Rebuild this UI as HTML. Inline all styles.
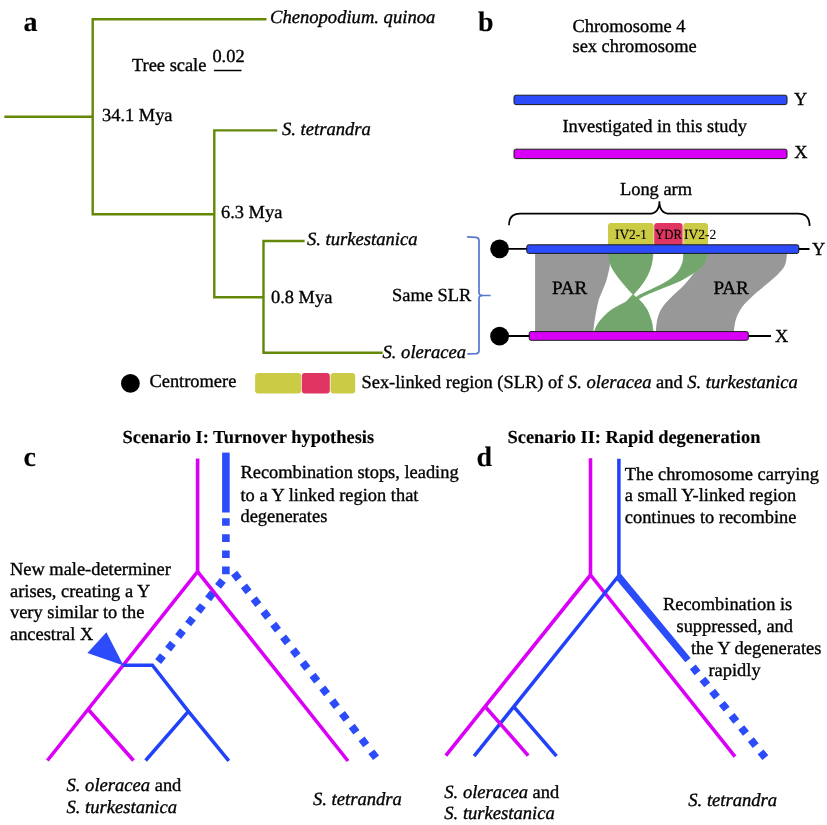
<!DOCTYPE html>
<html><head><meta charset="utf-8">
<style>
html,body{margin:0;padding:0;background:#fff;}
svg{display:block;will-change:transform;}
text{text-rendering:geometricPrecision;font-family:"Liberation Serif",serif;font-size:18.4px;fill:#000;stroke:#000;stroke-width:0.35px;}
.i{font-style:italic;font-size:18.6px;}
.b{font-weight:bold;stroke-width:0.15px;}
.lab{font-weight:bold;font-size:28px;stroke-width:0.1px;}
.sm{font-size:14px;stroke-width:0.12px;}
</style></head><body>
<svg width="827" height="825" viewBox="0 0 827 825">
<!-- ===== Panel a ===== -->
<text class="lab" x="23.5" y="30.5">a</text>
<g stroke="#638808" stroke-width="2.4" fill="none" stroke-linecap="square">
  <path d="M5.5 116.7H92.7M92.7 19.2V214.3M92.7 19.2H265.3M92.7 214.3H214.3M214.3 130.4V297.3M214.3 130.4H276M214.3 297.3H263.5M263.5 241V352.8M263.5 241H303.4M263.5 352.8H381.4"/>
</g>
<text class="i" x="270" y="22.9">Chenopodium. quinoa</text>
<text x="132" y="70.5">Tree scale</text>
<text x="212.4" y="61.6">0.02</text>
<path d="M214 70.5H241.5" stroke="#000" stroke-width="1.5"/>
<text x="102" y="121.1">34.1 Mya</text>
<text class="i" x="282" y="134.7">S. tetrandra</text>
<text x="221" y="217.9">6.3 Mya</text>
<text class="i" x="307" y="244.7">S. turkestanica</text>
<text x="271" y="302.7">0.8 Mya</text>
<text class="i" x="382.5" y="357.8">S. oleracea</text>
<text x="392" y="300.5">Same SLR</text>
<path d="M467.1 236.9L476 237.4Q479 237.9 479 240.6V292.7Q479 295.5 483 295.5H490.6M483 295.5Q479 295.5 479 298.3V350.8Q479 353.5 476 353.7L467.3 353.9" stroke="#5877CC" stroke-width="1.7" fill="none"/>

<!-- ===== Panel b ===== -->
<text class="lab" x="478" y="30.9">b</text>
<text x="572.5" y="31.5">Chromosome 4</text>
<text x="572.5" y="52.2">sex chromosome</text>
<rect x="514" y="95.2" width="273" height="9.4" rx="1.8" fill="#2B4CF8" stroke="#1a1a1a" stroke-width="1"/>
<text x="794" y="105.3">Y</text>
<text x="562.5" y="131.7">Investigated in this study</text>
<rect x="514" y="149.2" width="273" height="9.4" rx="1.8" fill="#DA00F8" stroke="#1a1a1a" stroke-width="1"/>
<text x="794.2" y="158">X</text>
<text x="620" y="195">Long arm</text>
<path d="M509 225.3Q509 213.7 520.3 213.7H648.9Q659.4 213.7 659.4 201.2Q659.4 213.7 669.9 213.7H798Q809.6 213.7 809.6 225.9" stroke="#000" stroke-width="1.7" fill="none"/>

<!-- PAR shapes -->
<path d="M535.1 252.5L609.5 252.5C609.6 254.5 610.1 261.2 609.9 264.7C609.7 268.1 608.8 270.4 608.2 273.2C607.6 276.0 607.0 278.8 606.1 281.6C605.2 284.4 603.9 287.0 602.7 290.1C601.5 293.2 599.7 296.7 598.7 300.0C597.7 303.3 597.2 306.7 596.5 310.0C595.8 313.3 595.2 316.5 594.7 320.0C594.2 323.5 593.6 328.9 593.4 331.0C593.1 333.1 593.2 332.2 593.2 332.5L535.1 332.5Z" fill="#989898"/>
<path d="M707.5 252.5L787.1 252.5C786.9 254.1 786.5 259.5 785.9 262.1C785.3 264.7 784.7 266.1 783.4 268.1C782.1 270.1 780.0 272.2 778.0 274.2C776.0 276.2 773.6 278.2 771.3 280.2C769.0 282.2 766.5 284.3 764.1 286.3C761.7 288.3 759.1 290.3 756.8 292.3C754.5 294.3 752.3 296.4 750.2 298.4C748.1 300.4 745.8 302.4 744.1 304.4C742.4 306.4 741.1 308.5 739.9 310.5C738.7 312.5 737.7 314.5 736.9 316.5C736.1 318.5 735.6 320.2 735.1 322.6C734.6 325.0 734.1 329.4 733.9 331.0C733.7 332.6 733.8 332.2 733.8 332.5L655.8 332.5C655.8 332.2 655.8 332.5 655.9 331.0C656.0 329.5 656.2 325.9 656.6 323.5C657.0 321.1 657.3 318.7 658.1 316.3C658.9 313.9 659.8 311.4 661.3 309.0C662.8 306.6 664.7 304.2 666.8 301.8C668.9 299.4 671.5 296.9 674.0 294.5C676.5 292.1 679.6 289.7 682.0 287.3C684.4 284.9 686.6 282.2 688.5 280.0C690.4 277.8 691.7 275.6 693.5 273.8C695.3 272.0 697.6 271.0 699.5 269.0C701.4 267.0 703.5 264.8 704.8 262.0C706.1 259.2 707.0 254.1 707.5 252.5Z" fill="#989898"/>
<path d="M608.6 252.5L653.1 252.5C652.9 254.3 652.4 260.1 651.6 263.5C650.9 266.9 649.8 269.9 648.6 272.8C647.4 275.7 645.9 278.3 644.2 281.0C642.5 283.7 640.0 286.7 638.2 289.0C636.4 291.3 634.0 293.7 633.2 294.6C632.5 293.9 630.8 292.3 628.9 290.1C627.0 287.9 624.0 284.4 621.7 281.6C619.5 278.8 617.2 276.0 615.4 273.2C613.6 270.4 611.8 268.1 610.7 264.7C609.6 261.2 609.0 254.5 608.6 252.5Z" fill="#73A66D" stroke="#5E9E58" stroke-width="0.7"/>
<path d="M632.9 294.6L626 301.9C623.5 303.3 614.9 307.5 610.8 310.4C606.7 313.3 603.7 316.8 601.4 319.3C599.1 321.8 598.1 323.7 597.0 325.6C595.9 327.6 595.1 329.9 594.7 331.0C594.3 332.1 594.5 332.2 594.5 332.5L653.3 332.5C653.2 332.2 653.2 332.5 653.0 331.0C652.8 329.5 652.4 325.9 651.9 323.5C651.4 321.1 650.6 318.7 649.7 316.3C648.8 313.9 648.0 311.5 646.5 309.0C645.0 306.5 642.9 303.6 640.8 301.4C638.7 299.2 635.1 296.6 634.0 295.6Z" fill="#73A66D" stroke="#5E9E58" stroke-width="0.7"/>
<path d="M683.8 252.5L707.2 252.5C706.8 254.1 706.1 259.4 704.7 262.2C703.4 265.0 701.1 267.4 699.1 269.3C697.1 271.2 696.0 271.5 693.0 273.3C690.0 275.1 685.7 278.0 680.8 280.4C675.9 282.8 669.2 285.2 663.5 287.6C657.8 290.0 650.5 292.8 646.3 294.7C642.1 296.6 639.8 298.1 638.5 298.8L636.3 297.3C636.9 296.9 637.0 296.3 640.2 294.7C643.4 293.1 650.7 290.0 655.4 287.6C660.1 285.2 664.9 282.9 668.6 280.4C672.3 277.8 675.3 275.3 677.7 272.3C680.1 269.3 681.8 265.5 682.8 262.2C683.8 258.9 683.6 254.1 683.8 252.5Z" fill="#73A66D" stroke="#5E9E58" stroke-width="0.7"/>


<!-- SLR boxes -->
<rect x="608" y="223" width="45.7" height="24" rx="3" fill="#CBCB46"/>
<rect x="654.2" y="223" width="28.4" height="24" rx="3" fill="#E03562"/>
<rect x="683.3" y="223" width="24.7" height="24" rx="3" fill="#CBCB46"/>
<text class="sm" x="615" y="238.9" textLength="31.8" lengthAdjust="spacingAndGlyphs">IV2-1</text>
<text class="sm" x="655" y="238.9" textLength="27" lengthAdjust="spacingAndGlyphs">YDR</text>
<text class="sm" x="684" y="238.9" textLength="32.2" lengthAdjust="spacingAndGlyphs">IV2-2</text>

<!-- chromosomes with centromere -->
<circle cx="499.6" cy="248.8" r="9.4" fill="#000"/>
<circle cx="499.6" cy="336.2" r="9.4" fill="#000"/>
<path d="M499 248.9H527M798 249H809.5M499 336H530M748.5 336H771" stroke="#000" stroke-width="1.9"/>
<rect x="526.8" y="244.8" width="272" height="8.6" rx="1.8" fill="#2B4CF8" stroke="#1a1a1a" stroke-width="1"/>
<rect x="529.2" y="331.6" width="219.1" height="8.7" rx="1.8" fill="#DA00F8" stroke="#1a1a1a" stroke-width="1"/>
<text x="812" y="254.8">Y</text>
<text x="775" y="342.3">X</text>
<text x="552" y="294.4" style="font-size:19px">PAR</text>
<text x="713.5" y="294.2" style="font-size:19px">PAR</text>

<!-- legend -->
<circle cx="130.4" cy="383.4" r="9.4" fill="#000"/>
<text x="149.5" y="387.3">Centromere</text>
<rect x="255.1" y="373" width="46.1" height="20.6" rx="3" fill="#CBCB46"/>
<rect x="301.8" y="373" width="28" height="20.6" rx="3" fill="#E03562"/>
<rect x="330.5" y="373" width="24.7" height="20.6" rx="3" fill="#CBCB46"/>
<text x="361.5" y="388">Sex-linked region (SLR) of <tspan class="i">S. oleracea</tspan> and <tspan class="i">S. turkestanica</tspan></text>

<!-- ===== Panel c ===== -->
<text class="b" x="122.5" y="442.9">Scenario I: Turnover hypothesis</text>
<text class="lab" x="23.5" y="465.7">c</text>
<g fill="none" stroke-linecap="butt">
  <path d="M197.6 458.4V571.6L47.4 760.5M197.6 571.6L348 761M88.5 709.8L133.5 760.5" stroke="#DA00F8" stroke-width="3.6"/>
  <path d="M225.9 452.6V512.5" stroke="#2B4CF8" stroke-width="7.6"/>
  <path d="M225.9 518.2L225.9 574.2" stroke="#2B4CF8" stroke-width="7.6" stroke-dasharray="7.6 8.53"/>
  <path d="M234.1 573.1L376.0 757.7" stroke="#2B4CF8" stroke-width="7.6" stroke-dasharray="7.6 8.49"/>
  <path d="M222.8 580.4L158.1 661.7" stroke="#2B4CF8" stroke-width="7.6" stroke-dasharray="7.6 8.44"/>
  <path d="M123 665.2H152.4L188.4 711.3L228.8 760.8M188.4 711.3L145.6 760.5" stroke="#2242FA" stroke-width="3.5"/>
</g>
<path d="M106.4 632.2L87.4 652.9L123.5 665.6Z" fill="#2B4CF8"/>
<text x="240.5" y="478.3">Recombination stops, leading</text>
<text x="240.5" y="501.4">to a Y linked region that</text>
<text x="240.5" y="522.3">degenerates</text>
<text x="10" y="574.8">New male-determiner</text>
<text x="10" y="596.6">arises, creating a Y</text>
<text x="10" y="618.4">very similar to the</text>
<text x="10" y="640.2">ancestral X</text>
<text x="66.5" y="791.3"><tspan class="i">S. oleracea</tspan> and</text>
<text class="i" x="66.5" y="813.3">S. turkestanica</text>
<text class="i" x="313" y="805.4">S. tetrandra</text>

<!-- ===== Panel d ===== -->
<text class="b" x="507.5" y="442.5">Scenario II: Rapid degeneration</text>
<text class="lab" x="476.5" y="465.9">d</text>
<g fill="none" stroke-linecap="butt">
  <path d="M590.5 458.2V575L445.8 755.6M590.5 575L735 756.6" stroke="#DA00F8" stroke-width="3.6"/>
  <path d="M618.9 458.7V575.5L474.1 756.2M514.4 707.4L556.5 756.2" stroke="#2242FA" stroke-width="3.5"/>
  <path d="M485.3 706.7L528.2 755.6" stroke="#DA00F8" stroke-width="3.6"/>
  <path d="M692.8 666.9L765.4 757.8" stroke="#2B4CF8" stroke-width="7.6" stroke-dasharray="7.6 7.92"/>
</g>
<path d="M617.2 574.5L620.6 573.6L690.6 658.1L685.3 662.3L616.8 580.3Z" fill="#2B4CF8"/>
<text x="624.8" y="479.9">The chromosome carrying</text>
<text x="624.8" y="501.2">a small Y-linked region</text>
<text x="624.8" y="523">continues to recombine</text>
<text x="663" y="609.7">Recombination is</text>
<text x="676.5" y="632.4">suppressed, and</text>
<text x="691" y="654.2">the Y degenerates</text>
<text x="708.5" y="676.1">rapidly</text>
<text x="444.3" y="797.6"><tspan class="i">S. oleracea</tspan> and</text>
<text class="i" x="444.3" y="819.4">S. turkestanica</text>
<text class="i" x="688.3" y="805.6">S. tetrandra</text>
</svg>
</body></html>
